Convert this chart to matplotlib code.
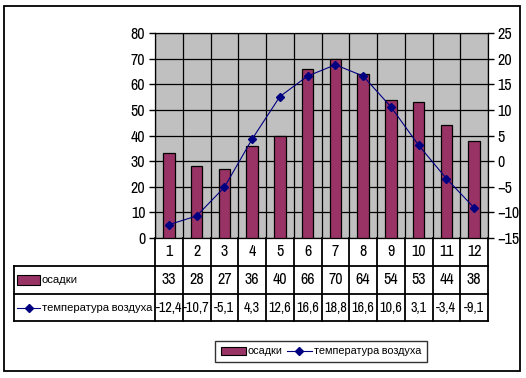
import matplotlib
matplotlib.use("Agg")
import matplotlib.pyplot as plt
from matplotlib.patches import Rectangle
from matplotlib.lines import Line2D
import matplotlib.transforms as mtransforms
from matplotlib import font_manager
import numpy as np

months = [1, 2, 3, 4, 5, 6, 7, 8, 9, 10, 11, 12]
precip = [33, 28, 27, 36, 40, 66, 70, 64, 54, 53, 44, 38]
temp = [-12.4, -10.7, -5.1, 4.3, 12.6, 16.6, 18.8, 16.6, 10.6, 3.1, -3.4, -9.1]
left_ticks = [0, 10, 20, 30, 40, 50, 60, 70, 80]
right_ticks = [-15, -10, -5, 0, 5, 10, 15, 20, 25]
name_precip = "осадки"
name_temp = "температура воздуха"

names = {f.name for f in font_manager.fontManager.ttflist}
pref = ['Liberation Sans Narrow', 'Arial Narrow', 'DejaVu Sans Condensed']
chosen = [n for n in pref if n in names]
if not chosen:
    chosen = sorted(n for n in names if ('Narrow' in n or 'Condensed' in n))
plt.rcParams['font.family'] = chosen[:1] + ['Liberation Sans', 'DejaVu Sans']

BAR = "#993366"
LINE = "#000080"
BG = "#C0C0C0"

W, H = 526, 378
fig = plt.figure(figsize=(W / 100, H / 100), dpi=100)
renderer = fig.canvas.get_renderer()

def fit_size(s, target_px, base=10.0):
    t = fig.text(0, 0, s, fontsize=base)
    w = t.get_window_extent(renderer).width
    t.remove()
    return base * target_px / w

FS = min(fit_size("-12,4", 26.5), 12)
FST = min(FS * 1.12, 12)
FSL = min(fit_size(name_temp, 111), 12)
FSG = min(fit_size(name_temp, 107), 12)

def fx(px):
    return px / W

def fy(py):
    return 1 - py / H

# outer frame
fig.patches.append(Rectangle((fx(4), fy(371)), fx(520) - fx(4), fy(6) - fy(371),
                             transform=fig.transFigure, fill=False, edgecolor='black', lw=1.3))

L, R, T, B = 155, 488, 33, 238
ax = fig.add_axes([fx(L), fy(B), fx(R) - fx(L), fy(T) - fy(B)])
ax.set_facecolor(BG)
ax.set_xlim(0.5, 12.5)
ax.set_ylim(left_ticks[0], left_ticks[-1])
ax.set_yticks(left_ticks)
ax.set_xticks(np.arange(0.5, 12.6, 1.0))
ax.set_xticklabels([])
ax.tick_params(axis='x', length=0)
ax.tick_params(axis='y', direction='out', length=4, width=1, labelsize=FST, pad=3)
ax.grid(True, color='black', lw=0.9)
ax.set_axisbelow(True)
for s in ax.spines.values():
    s.set_color('black')
    s.set_linewidth(0.9)

ax.bar(months, precip, width=0.42, color=BAR, edgecolor='black', linewidth=0.9, zorder=3)

ax2 = ax.twinx()
ax2.set_ylim(right_ticks[0], right_ticks[-1])
ax2.set_yticks(right_ticks)
ax2.tick_params(axis='y', direction='out', length=4, width=1, labelsize=FST, pad=3)
ax2.plot(months, temp, color=LINE, lw=0.8, marker='D', markersize=4, zorder=4)
for s in ax2.spines.values():
    s.set_visible(False)

# data table
tb = mtransforms.blended_transform_factory(ax.transData, ax.transAxes)
ph = B - T
y1 = -(266 - B) / ph
y2 = -(294 - B) / ph
y3 = -(321 - B) / ph
xl = (14 - L) / (R - L)
tlw = 1.3
for yy in (y1, y2, y3):
    ax.add_line(Line2D([xl, 1.0], [yy, yy], transform=ax.transAxes, color='black', lw=tlw, clip_on=False))
ax.add_line(Line2D([xl, xl], [y1, y3], transform=ax.transAxes, color='black', lw=tlw, clip_on=False))
for xb in np.arange(0.5, 12.6, 1.0):
    ax.add_line(Line2D([xb, xb], [0, y3], transform=tb, color='black', lw=tlw, clip_on=False))

for m, p, t in zip(months, precip, temp):
    ax.text(m, (0 + y1) / 2, str(m), transform=tb, ha='center', va='center', fontsize=FST)
    ax.text(m, (y1 + y2) / 2, str(p), transform=tb, ha='center', va='center', fontsize=FST)
    ax.text(m, (y2 + y3) / 2, f"{t:.1f}".replace('.', ','), transform=tb, ha='center',
            va='center', fontsize=FS)

# label column keys
fig.patches.append(Rectangle((fx(17), fy(285)), fx(40) - fx(17), fy(275) - fy(285),
                             transform=fig.transFigure, facecolor=BAR, edgecolor='black', lw=0.8))
fig.text(fx(42), fy(280), name_precip, ha='left', va='center', fontsize=FSL)
fig.lines.append(Line2D([fx(17), fx(40)], [fy(308), fy(308)], transform=fig.transFigure,
                        color=LINE, lw=0.8))
fig.lines.append(Line2D([fx(28.5)], [fy(308)], transform=fig.transFigure,
                        color=LINE, marker='D', markersize=4))
fig.text(fx(42), fy(308), name_temp, ha='left', va='center', fontsize=FSL)

# legend
h1 = Rectangle((0, 0), 1, 1, facecolor=BAR, edgecolor='black', lw=0.8)
h2 = Line2D([], [], color=LINE, lw=0.8, marker='D', markersize=4)
leg = fig.legend([h1, h2], [name_precip, name_temp], loc='center',
                 bbox_to_anchor=(fx(321), fy(351.5)), ncol=2, frameon=True, fancybox=False,
                 fontsize=FSG, handlelength=2.3, handletextpad=0.2, columnspacing=0.35,
                 borderpad=0.5, handleheight=0.8, borderaxespad=0)
leg.get_frame().set_edgecolor('black')
leg.get_frame().set_linewidth(1.0)

fig.savefig("out.png", dpi=100)
